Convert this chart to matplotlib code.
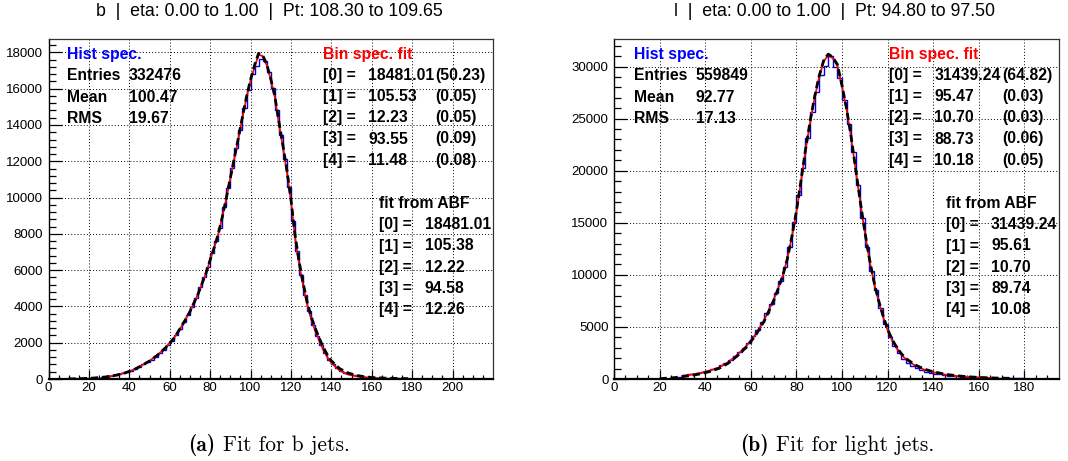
import matplotlib.pyplot as plt
import numpy as np

W, H = 1068, 461

# ---- b jets: histogram contents (2 GeV bins from 0) ----
b_counts = [0, 0, 2, 3, 5, 8, 12, 18, 25, 35,
            45, 60, 75, 95, 120, 160, 200, 250, 310, 380,
            460, 560, 680, 800, 930, 1070, 1240, 1420, 1620, 1860,
            2120, 2430, 2760, 3150, 3550, 3950, 4450, 5050, 5600, 6200,
            6950, 7600, 8350, 9500, 10550, 11650, 12750, 13750, 14950, 15950,
            16800, 17250, 17620, 17540, 16900, 16050, 14850, 13450, 12150, 10600,
            8700, 7050, 5750, 4650, 3750, 2950, 2350, 1850, 1420, 1050,
            800, 600, 450, 340, 260, 200, 160, 130, 105, 88,
            74, 62, 52, 45, 39, 34, 30, 26, 23, 20,
            18, 16, 14, 12, 11, 10, 9, 8, 7, 6,
            6, 5, 5, 4, 4, 3, 3, 3, 2, 2]
b_fit_x = [30, 34, 38, 42, 46, 50, 54, 58, 62, 66, 70, 74, 78, 80, 82, 84, 86, 88, 90,
           92, 94, 96, 98, 100, 102, 104, 106, 108, 110, 112, 114, 116, 118, 120, 122,
           124, 126, 128, 130, 132, 134, 136, 138, 140, 144, 148, 152, 156, 160, 165]
b_fit_y = [140, 230, 350, 510, 740, 1000, 1330, 1740, 2240, 2930, 3720, 4680, 5840, 6550,
           7230, 7950, 8900, 9950, 11050, 12150, 13250, 14400, 15500, 16450, 17200, 17870,
           17800, 17300, 16500, 15550, 14100, 12800, 11400, 9800, 7800, 6350, 5150, 4100,
           3300, 2650, 2100, 1600, 1200, 880, 480, 260, 160, 100, 65, 40]
b_abf_x = [10, 16, 22, 28, 34, 38, 42, 46, 50, 54, 58, 62, 66, 70, 74, 78, 80, 82, 84,
           86, 88, 90, 92, 94, 96, 98, 100, 102, 104, 106, 108, 110, 112, 114, 116, 118,
           120, 122, 124, 126, 128, 130, 132, 134, 136, 138, 140, 144, 148, 152, 156,
           160, 166, 172, 178]
b_abf_y = [5, 20, 50, 110, 220, 340, 500, 730, 990, 1320, 1730, 2230, 2920, 3710, 4680,
           5850, 6560, 7250, 7980, 8920, 9980, 11080, 12200, 13300, 14450, 15550, 16500,
           17300, 17950, 17850, 17350, 16550, 15600, 14200, 12900, 11500, 9900, 7950,
           6500, 5300, 4250, 3450, 2800, 2250, 1750, 1330, 1000, 580, 340, 210, 130,
           85, 50, 30, 20]

# ---- light jets ----
l_counts = [0, 0, 0, 0, 0, 0, 2, 5, 8, 12,
            20, 35, 60, 100, 160, 380, 450, 520, 600, 690,
            790, 920, 1100, 1330, 1580, 1870, 2200, 2580, 3020, 3500,
            4100, 4750, 5500, 6300, 7250, 8300, 9450, 10800, 12700, 15100,
            17700, 20300, 23100, 25600, 27600, 29200, 30100, 31000, 30000, 28900,
            26800, 24500, 21800, 18600, 15500, 12700, 10400, 8500, 6800, 5300,
            4050, 3150, 2450, 1950, 1550, 1250, 1020, 850, 720, 610,
            520, 440, 380, 330, 290, 250, 220, 190, 170, 150,
            135, 120, 108, 97, 87, 78, 70, 63, 57, 52,
            47, 43, 39, 35, 32, 29, 26, 24]
l_fit_x = [30, 34, 38, 42, 46, 50, 54, 58, 62, 66, 70, 72, 74, 76, 78, 80, 82, 84, 86,
           88, 90, 92, 94, 96, 98, 100, 102, 104, 106, 108, 110, 112, 114, 116, 118, 120,
           122, 124, 126, 128, 132, 136, 140, 145, 150, 155, 160, 165]
l_fit_y = [300, 420, 580, 800, 1100, 1600, 2300, 3150, 4250, 5700, 7600, 8700, 9900,
           11500, 13600, 16000, 18900, 21900, 24600, 27000, 29000, 30500, 31100, 30800,
           30100, 28100, 25900, 23200, 20100, 17000, 14100, 11500, 9300, 7500, 6000, 4700,
           3700, 2950, 2350, 1900, 1300, 900, 650, 430, 290, 200, 140, 100]
l_abf_x = [20, 26, 30, 34, 38, 42, 46, 50, 54, 58, 62, 66, 70, 72, 74, 76, 78, 80, 82,
           84, 86, 88, 90, 92, 94, 96, 98, 100, 102, 104, 106, 108, 110, 112, 114, 116,
           118, 120, 122, 124, 126, 128, 132, 136, 140, 145, 150, 155, 160, 168, 175]
l_abf_y = [30, 120, 220, 340, 500, 720, 1020, 1500, 2200, 3050, 4150, 5600, 7500, 8650,
           9900, 11500, 13650, 16100, 19000, 22000, 24700, 27100, 29100, 30600, 31200,
           30900, 30200, 28200, 26000, 23300, 20200, 17100, 14200, 11600, 9400, 7600, 6100,
           4800, 3800, 3050, 2450, 1980, 1370, 960, 700, 470, 320, 220, 150, 90, 60]

panels = [
    dict(counts=b_counts, fx=b_fit_x, fy=b_fit_y, ax_=b_abf_x, ay=b_abf_y,
         box=(48.5, 493), xmax=220, ymax=18740, ymaj=2000, ymin=400,
         title="b  |  eta: 0.00 to 1.00  |  Pt: 108.30 to 109.65", tx=269,
         entries="332476", mean="100.47", rms="19.67",
         fit=[("18481.01", "(50.23)"), ("105.53", "(0.05)"), ("12.23", "(0.05)"),
              ("93.55", "(0.09)"), ("11.48", "(0.08)")],
         abf=["18481.01", "105.38", "12.22", "94.58", "12.26"],
         hs=(66.7, 128.5), bs=(322.7, 368.3, 435), ab=(379.3, 425),
         cap_b="(a)", cap="Fit for b jets.", cx=269),
    dict(counts=l_counts, fx=l_fit_x, fy=l_fit_y, ax_=l_abf_x, ay=l_abf_y,
         box=(614, 1058.5), xmax=195, ymax=32650, ymaj=5000, ymin=1000,
         title="l  |  eta: 0.00 to 1.00  |  Pt: 94.80 to 97.50", tx=834,
         entries="559849", mean="92.77", rms="17.13",
         fit=[("31439.24", "(64.82)"), ("95.47", "(0.03)"), ("10.70", "(0.03)"),
              ("88.73", "(0.06)"), ("10.18", "(0.05)")],
         abf=["31439.24", "95.61", "10.70", "89.74", "10.08"],
         hs=(634.3, 696), bs=(889.3, 934.3, 1002.7), ab=(946, 991),
         cap_b="(b)", cap="Fit for light jets.", cx=837),
]

fig = plt.figure(figsize=(W / 100, H / 100), dpi=100)
renderer = fig.canvas.get_renderer()
sans = "Liberation Sans"


def ftext(x, y, s, **kw):
    return fig.text(x / W, 1 - y / H, s, va="center", **kw)


for p in panels:
    x0, x1 = p["box"]
    ax = fig.add_axes([x0 / W, (H - 379) / H, (x1 - x0) / W, (379 - 39) / H])
    edges = np.arange(0, 2 * len(p["counts"]) + 1, 2)
    ax.stairs(p["counts"], edges, color="#0000e0", lw=1.0)
    ax.plot(p["fx"], p["fy"], color="red", lw=1.3)
    ax.plot(p["ax_"], p["ay"], color="black", lw=2.0, dashes=(2.6, 1.4))
    ax.set_xlim(0, p["xmax"])
    ax.set_ylim(0, p["ymax"])
    ax.set_xticks(np.arange(0, p["xmax"], 20))
    ax.set_xticks(np.arange(0, p["xmax"], 5), minor=True)
    ax.set_yticks(np.arange(0, p["ymax"], p["ymaj"]))
    ax.set_yticks(np.arange(0, p["ymax"], p["ymin"]), minor=True)
    ax.grid(True, which="major", color="black", lw=0.7, ls=(0, (1, 2.2)))
    ax.tick_params(which="both", direction="in", top=False, right=False,
                   labelsize=9.5, width=0.9)
    ax.tick_params(axis="x", which="major", length=6.5, pad=2.5)
    ax.tick_params(axis="x", which="minor", length=3.2)
    ax.tick_params(axis="y", which="major", length=9.5, pad=4)
    ax.tick_params(axis="y", which="minor", length=4.7)
    for lab in ax.get_xticklabels() + ax.get_yticklabels():
        lab.set_family(sans)
    for side in ["top", "right"]:
        ax.spines[side].set_linewidth(0.9)
        ax.spines[side].set_color("#333333")
    ax.spines["bottom"].set_linewidth(1.6)
    ax.spines["left"].set_linewidth(1.0)

    ftext(p["tx"], 12, p["title"], ha="center", family=sans, fontsize=12.8)

    bold = dict(family=sans, fontsize=11.3, weight="bold", ha="left")
    hx, hv = p["hs"]
    ftext(hx, 54, "Hist spec.", color="blue", **bold)
    for y, name, val in [(75.5, "Entries", p["entries"]), (97.7, "Mean", p["mean"]),
                         (118.3, "RMS", p["rms"])]:
        ftext(hx, y, name, **bold)
        ftext(hv, y, val, **bold)

    bx, bv, be = p["bs"]
    ftext(bx, 55, "Bin spec. fit", color="red", **bold)
    for i, (val, err) in enumerate(p["fit"]):
        y = 75.7 + i * 21.1
        ftext(bx, y, "[%d] =" % i, **bold)
        ftext(bv, y, val, **bold)
        ftext(be, y, err, **bold)

    axx, av = p["ab"]
    ftext(axx, 203.5, "fit from ABF", **bold)
    for i, val in enumerate(p["abf"]):
        y = 224.8 + i * 21.2
        ftext(axx, y, "[%d] =" % i, **bold)
        ftext(av, y, val, **bold)

    # caption: bold label + roman text, centred as a whole
    t1 = ftext(0, 445, p["cap_b"], family="cmb10", fontsize=15.5, ha="left")
    t2 = ftext(0, 445, p["cap"], family="cmr10", fontsize=15.5, ha="left")
    w1 = t1.get_window_extent(renderer).width
    w2 = t2.get_window_extent(renderer).width
    gap = 7
    start = p["cx"] - (w1 + gap + w2) / 2
    t1.set_x(start / W)
    t2.set_x((start + w1 + gap) / W)

fig.savefig("out.png", dpi=100)
